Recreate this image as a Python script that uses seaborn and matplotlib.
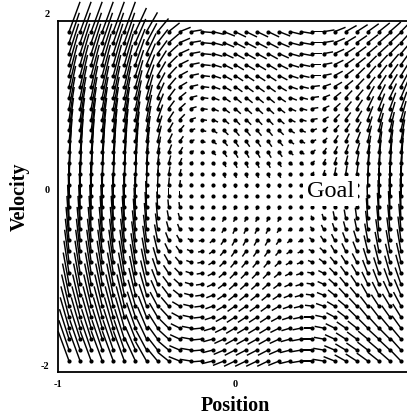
import numpy as np
import matplotlib
matplotlib.use("Agg")
import matplotlib.pyplot as plt
import matplotlib.transforms as mtransforms
import seaborn as sns
import pandas as pd

# ---- data ----
# grid of state points (position, velocity)
position_grid = [-0.9375, -0.875, -0.8125, -0.75, -0.6875, -0.625, -0.5625, -0.5,
                 -0.4375, -0.375, -0.3125, -0.25, -0.1875, -0.125, -0.0625, 0.0,
                 0.0625, 0.125, 0.1875, 0.25, 0.3125, 0.375, 0.4375, 0.5,
                 0.5625, 0.625, 0.6875, 0.75, 0.8125, 0.875, 0.9375]
velocity_grid = [1.875, 1.75, 1.625, 1.5, 1.375, 1.25, 1.125, 1.0, 0.875, 0.75,
                 0.625, 0.5, 0.375, 0.25, 0.125, 0.0, -0.125, -0.25, -0.375, -0.5,
                 -0.625, -0.75, -0.875, -1.0, -1.125, -1.25, -1.375, -1.5, -1.625,
                 -1.75, -1.875]
# position change of each vector, per velocity row (thousandths of a position unit)
dpos_by_row = [62, 58, 54, 50, 46, 42, 37, 33, 29, 25, 21, 17, 12, 8, 4, 0,
               -4, -8, -12, -17, -21, -25, -29, -33, -37, -42, -46, -50, -54, -58, -62]
# velocity change of each vector (hundredths of a velocity unit), rows top -> bottom
dvel_rows = [
    [34,34,34,34,34,34,27,22,15,10,5,2,-1,-3,-5,-6,-6,-6,-6,-5,-3,-2,0,2,5,7,8,9,10,11,13],
    [34,34,34,34,34,34,27,22,15,10,5,2,-1,-3,-5,-6,-6,-6,-6,-5,-3,-2,0,2,5,7,8,9,10,11,13],
    [34,34,34,34,34,34,28,23,15,10,5,2,-1,-3,-5,-6,-6,-6,-6,-5,-3,-2,0,2,5,7,8,9,10,11,13],
    [35,35,35,35,35,35,29,24,16,10,5,2,-1,-3,-5,-6,-6,-6,-6,-5,-3,-2,0,2,5,7,8,10,11,12,14],
    [35,35,35,35,35,35,29,24,16,10,5,2,-1,-3,-5,-6,-6,-6,-6,-5,-3,-2,0,2,5,7,9,11,12,13,15],
    [36,36,36,36,36,36,30,25,16,10,5,2,-1,-3,-5,-6,-6,-6,-6,-5,-3,-2,1,3,5,7,9,11,13,14,16],
    [36,36,36,36,36,36,31,26,17,10,6,2,-1,-3,-5,-6,-6,-6,-6,-5,-3,-2,1,3,6,8,9,13,15,16,18],
    [36,36,36,36,36,36,32,27,17,9,6,2,-1,-3,-5,-6,-6,-6,-6,-5,-3,-2,1,3,6,8,10,14,17,18,19],
    [37,37,37,37,37,37,33,28,17,9,6,2,-1,-3,-5,-6,-6,-6,-6,-5,-3,-2,1,3,6,8,10,15,18,20,21],
    [37,37,37,37,37,37,33,28,17,9,6,2,-1,-3,-5,-6,-6,-6,-6,-5,-3,-2,2,4,6,8,10,16,20,21,22],
    [37,37,37,37,37,37,34,29,18,9,6,2,-1,-3,-5,-6,-6,-6,-6,-5,-3,-2,2,4,7,9,11,18,22,24,25],
    [38,38,38,38,38,38,34,29,18,9,6,2,-1,-3,-5,-6,-6,-6,-6,-5,-3,-2,3,5,7,9,11,19,24,26,27],
    [38,38,38,38,38,38,35,30,18,9,6,2,-1,-2,-4,-5,-5,-5,-5,-4,-2,-2,3,5,7,9,12,21,27,28,29],
    [38,38,38,38,38,38,35,30,18,9,6,2,-1,-2,-4,-4,-4,-4,-4,-4,-2,-1,3,5,8,10,12,23,29,31,31],
    [38,38,38,38,38,38,35,30,18,9,6,2,0,-2,-3,-3,-3,-3,-3,-3,-2,-1,4,6,8,10,13,24,31,33,33],
    [38,38,38,38,38,38,35,30,18,9,6,2,1,-1,-1,-1,-1,-1,-1,-1,-1,-1,4,6,8,10,13,25,32,34,34],
    [38,38,38,38,38,38,35,30,18,9,6,2,0,-2,-3,-3,-3,-3,-3,-3,-2,-1,4,6,8,10,13,24,31,33,33],
    [38,38,38,38,38,38,35,30,18,9,6,2,-1,-2,-4,-4,-4,-4,-4,-4,-2,-1,3,5,8,10,12,23,29,31,31],
    [38,38,38,38,38,38,35,30,18,9,6,2,-1,-2,-4,-5,-5,-5,-5,-4,-2,-2,3,5,7,9,12,21,27,28,29],
    [38,38,38,38,38,38,34,29,18,9,6,2,-1,-3,-5,-6,-6,-6,-6,-5,-3,-2,3,5,7,9,11,19,24,26,27],
    [37,37,37,37,37,37,34,29,18,9,6,2,-1,-3,-5,-6,-6,-6,-6,-5,-3,-2,2,4,7,9,11,18,22,24,25],
    [37,37,37,37,37,37,33,28,17,9,6,2,-1,-3,-5,-6,-6,-6,-6,-5,-3,-2,2,4,6,8,10,16,20,21,22],
    [37,37,37,37,37,37,33,28,17,9,6,2,-1,-3,-5,-6,-6,-6,-6,-5,-3,-2,1,3,6,8,10,15,18,20,21],
    [36,36,36,36,36,36,32,27,17,9,6,2,-1,-3,-5,-6,-6,-6,-6,-5,-3,-2,1,3,6,8,10,14,17,18,19],
    [36,36,36,36,36,36,31,26,17,10,6,2,-1,-3,-5,-6,-6,-6,-6,-5,-3,-2,1,3,6,8,9,13,15,16,18],
    [36,36,36,36,36,36,30,25,16,10,5,2,-1,-3,-5,-6,-6,-6,-6,-5,-3,-2,1,3,5,7,9,11,13,14,16],
    [35,35,35,35,35,35,29,24,16,10,5,2,-1,-3,-5,-6,-6,-6,-6,-5,-3,-2,0,2,5,7,9,11,12,13,15],
    [35,35,35,35,35,35,29,24,16,10,5,2,-1,-3,-5,-6,-6,-6,-6,-5,-3,-2,0,2,5,7,8,10,11,12,14],
    [34,34,34,34,34,34,28,23,15,10,5,2,-1,-3,-5,-6,-6,-6,-6,-5,-3,-2,0,2,5,7,8,9,10,11,13],
    [34,34,34,34,34,34,27,22,15,10,5,2,-1,-3,-5,-6,-6,-6,-6,-5,-3,-2,0,2,5,7,8,9,10,11,13],
    [34,34,34,34,34,34,27,22,15,10,5,2,-1,-3,-5,-6,-6,-6,-6,-5,-3,-2,0,2,5,7,8,9,10,11,13],
]
x_ticks = [-1, 0]
y_ticks = [-2, 0, 2]
goal_label = "Goal"
goal_position = 0.54
goal_velocity = 0.06

# ---- drawing ----
sns.set_theme(style="white")
plt.rcParams['font.family'] = ['Liberation Serif', 'DejaVu Serif']

fig = plt.figure(figsize=(4.07, 4.19), dpi=100)
ax = fig.add_axes([58 / 407, 47 / 419, 354 / 407, 351.3 / 419])

X, Y = np.meshgrid(position_grid, velocity_grid)
U = np.array(dpos_by_row, dtype=float)[:, None] / 1000.0 * np.ones_like(X)
V = np.array(dvel_rows, dtype=float) / 100.0

q = ax.quiver(X, Y, U, V, angles='xy', scale_units='xy', scale=1, pivot='tail',
              headwidth=1, headlength=0, headaxislength=0, units='dots',
              width=1.45, minlength=0, color='black', zorder=2)
q.set_clip_on(False)

df = pd.DataFrame({'position': X.ravel(), 'velocity': Y.ravel()})
sns.scatterplot(data=df, x='position', y='velocity', ax=ax, s=9, color='black',
                linewidth=0, legend=False, zorder=3)

ax.text(goal_position, goal_velocity, goal_label, fontsize=17.5, ha='center',
        va='center', color='black', zorder=5,
        bbox=dict(facecolor='white', edgecolor='none', pad=3))

ax.set_xlim(-1, 1)
ax.set_ylim(-2, 2)
ax.set_xticks(x_ticks)
ax.set_yticks(y_ticks)
ax.set_xticklabels([str(t) for t in x_ticks])
ax.set_yticklabels([str(t) for t in y_ticks])
ax.tick_params(length=0, labelsize=7.5, pad=6, colors='black')
for lab in ax.get_xticklabels() + ax.get_yticklabels():
    lab.set_fontweight('bold')
offset = mtransforms.ScaledTranslation(0, 0.07, fig.dpi_scale_trans)
for lab in ax.get_yticklabels():
    lab.set_transform(lab.get_transform() + offset)

ax.set_xlabel("Position", fontsize=14.5, fontweight='bold', labelpad=5, color='black')
ax.set_ylabel("Velocity", fontsize=14.5, fontweight='bold', labelpad=8, color='black')

for side in ['left', 'bottom', 'top']:
    ax.spines[side].set_color('black')
    ax.spines[side].set_linewidth(1.3)
ax.spines['right'].set_visible(False)

fig.savefig('out.png', dpi=100)
